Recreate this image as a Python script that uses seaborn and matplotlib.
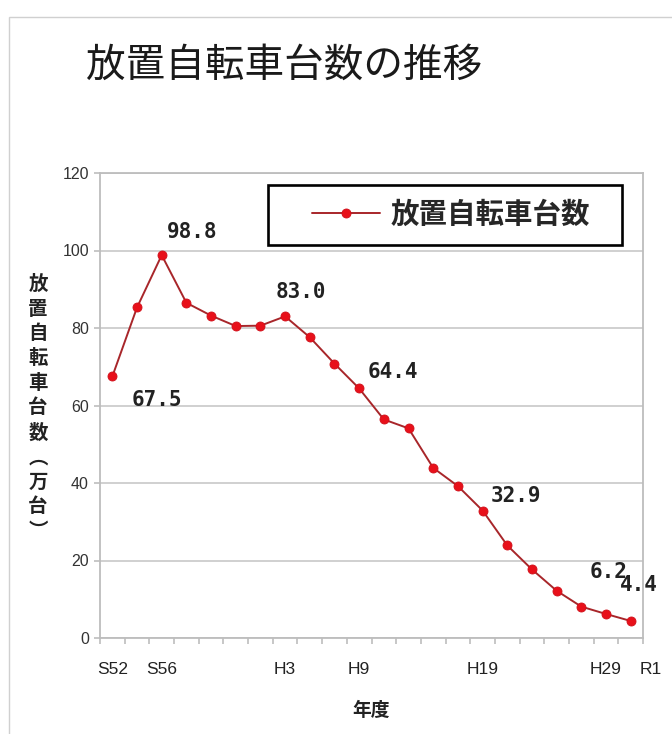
import matplotlib
matplotlib.use("Agg")
import matplotlib.pyplot as plt
import matplotlib.transforms as mtransforms
from matplotlib.patches import Rectangle
import pandas as pd
import seaborn as sns

# fiscal years (two-year steps) and abandoned bicycle counts (10,000 units)
years = ["S52", "S54", "S56", "S58", "S60", "S62", "H1", "H3", "H5", "H7", "H9",
         "H11", "H13", "H15", "H17", "H19", "H21", "H23", "H25", "H27", "H29", "R1"]
counts = [67.5, 85.3, 98.8, 86.5, 83.2, 80.5, 80.6, 83.0, 77.6, 70.8, 64.4,
          56.4, 54.1, 43.9, 39.2, 32.9, 23.9, 17.7, 12.2, 8.1, 6.2, 4.4]
shown_years = ["S52", "S56", "H3", "H9", "H19", "H29", "R1"]
labelled_years = ["S52", "S56", "H3", "H9", "H19", "H29", "R1"]
series_name = "放置自転車台数"

df = pd.DataFrame({"idx": range(len(years)), "year": years, "count": counts})

sns.set_theme(style="white")
JP = "Noto Sans CJK JP"
plt.rcParams["font.family"] = [JP, "DejaVu Sans"]

fig = plt.figure(figsize=(6.72, 7.34), dpi=100)
ax = fig.add_axes([100 / 672, 1 - 638 / 734, 543 / 672, 465 / 734])

sns.lineplot(data=df, x="idx", y="count", ax=ax, color="#a8262a", lw=1.4,
             marker="o", markersize=6.5, markerfacecolor="#e8101a",
             markeredgecolor="#d0101a", markeredgewidth=0.6, label=series_name,
             zorder=3)

ax.set_xlim(-0.5, len(years) - 0.5)
ax.set_ylim(0, 120)
ax.set_yticks(range(0, 121, 20))
ax.yaxis.grid(True, color="#c8c8c8", lw=1.2)
ax.xaxis.grid(False)
for s in ax.spines.values():
    s.set_color("#bdbdbd")
    s.set_linewidth(1.3)

# category boundaries as minor ticks, labels at selected category centres
ax.set_xticks([i - 0.5 for i in range(len(years) + 1)], minor=True)
ax.set_xticks([years.index(y) for y in shown_years])
ax.set_xticklabels(shown_years, family=["Liberation Sans"], fontsize=12.5, color="#222222")
ax.tick_params(axis="x", which="major", length=0, pad=17)
ax.tick_params(axis="x", which="minor", length=4, width=1.2, color="#bdbdbd",
               direction="out", bottom=True)
ax.tick_params(axis="y", length=4, width=1.2, color="#bdbdbd", direction="out",
               left=True, pad=4, labelsize=11.5, labelcolor="#333333")
for lab in ax.get_yticklabels():
    lab.set_family(["Liberation Sans"])
last = ax.get_xticklabels()[-1]
last.set_transform(last.get_transform() +
                   mtransforms.ScaledTranslation(0.2, 0, fig.dpi_scale_trans))

ax.set_xlabel("")
ax.set_ylabel("")

# data labels
offsets = {"S52": (45, -24), "S56": (30, 23), "H3": (16, 24), "H9": (34, 16),
           "H19": (33, 15), "H29": (3, 42), "R1": (8, 36)}
for y in labelled_years:
    i = years.index(y)
    ax.annotate(f"{counts[i]:.1f}", (i, counts[i]), xytext=offsets[y],
                textcoords="offset pixels", ha="center", va="center",
                family=["DejaVu Sans Mono"], fontweight="bold", fontsize=15,
                color="#222222", annotation_clip=False, zorder=5)

# legend with its own box
ax.legend(loc="center left", bbox_to_anchor=(0.3904, 0.9097), frameon=False,
          borderpad=0, borderaxespad=0, handlelength=2.4, handletextpad=0.35,
          prop={"family": JP, "weight": "bold", "size": 20.5})
ax.add_patch(Rectangle((0.3094, 0.8452), 0.6519, 0.129, transform=ax.transAxes,
                       fill=True, facecolor="white", edgecolor="black", lw=1.9,
                       zorder=4))
ax.get_legend().set_zorder(6)

# titles and axis labels
fig.text(86 / 672, 1 - 66 / 734, "放置自転車台数の推移", fontsize=28.5,
         color="#1a1a1a", ha="left", va="center")
fig.text(38 / 672, 1 - 408 / 734, "\n".join("放置自転車台数︵万台︶"),
         fontsize=14, fontweight="bold", color="#222222", ha="center",
         va="center", linespacing=1.38)
fig.text(371 / 672, 1 - 710 / 734, "年度", fontsize=13.5, fontweight="bold",
         color="#222222", ha="center", va="center")

# outer chart frame
fig.patches.append(Rectangle((9 / 672, -0.05), 1.1, 1 - 17 / 734 + 0.05,
                             transform=fig.transFigure, fill=False,
                             edgecolor="#d0d0d0", lw=1.0))

fig.savefig("out.png", dpi=100)
